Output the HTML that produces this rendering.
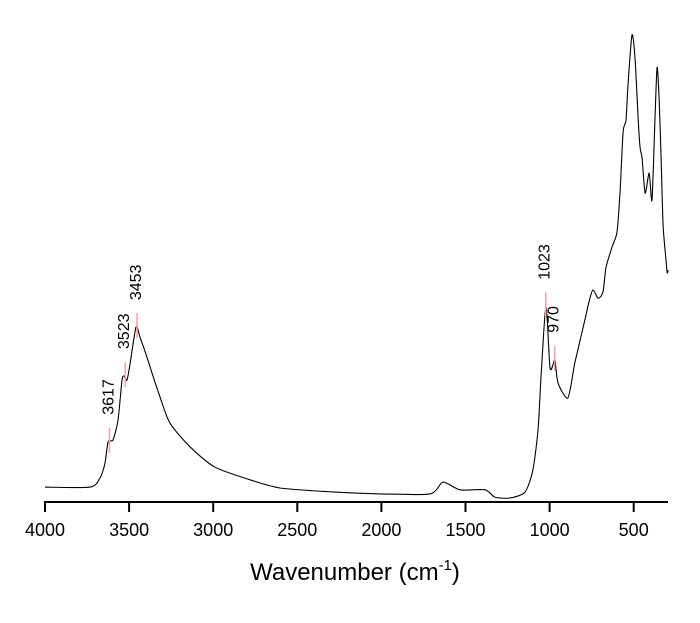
<!DOCTYPE html>
<html><head><meta charset="utf-8"><style>
html,body{margin:0;padding:0;background:#fff;}
svg text{font-family:"Liberation Sans",Arial,sans-serif;fill:#000;}
</style></head><body>
<svg id="chart" width="700" height="618" viewBox="0 0 700 618" xmlns="http://www.w3.org/2000/svg">
<g id="axis"></g>
<path id="spec" fill="none" stroke="#000" stroke-width="1.1" stroke-linejoin="round"></path>
<g id="peaks"></g>
<text x="355" y="580" font-size="24" text-anchor="middle">Wavenumber (cm<tspan font-size="15" dy="-10">-1</tspan><tspan dy="10">)</tspan></text>
</svg>
<script>
const wavenumbers=[4000,3732,3673,3643,3625,3596,3566,3542,3530,3513,3495,3459,3435,3394,3364,3316,3257,3138,2989,2781,2603,2276,2008,1711,1634,1533,1384,1325,1235,1146,1099,1069,1051,1022,998,980,968,950,891,850,790,766,742,712,683,665,629,599,581,563,546,534,510,492,474,462,450,432,408,391,373,361,349,337,325,307,301,295];
const absorbance=[0.002,0.002,0.022,0.055,0.102,0.106,0.150,0.238,0.247,0.238,0.272,0.355,0.333,0.289,0.254,0.201,0.143,0.091,0.046,0.018,0,-0.009,-0.013,-0.013,0.013,-0.004,-0.004,-0.020,-0.022,-0.009,0.040,0.128,0.245,0.400,0.267,0.272,0.283,0.232,0.199,0.276,0.371,0.411,0.437,0.419,0.432,0.486,0.532,0.565,0.654,0.786,0.812,0.890,1.000,0.949,0.817,0.751,0.728,0.651,0.695,0.636,0.823,0.929,0.861,0.728,0.580,0.499,0.475,0.481];
const tickValues=[4000,3500,3000,2500,2000,1500,1000,500];
const peakLabels=["3617","3523","3453","1023","970"];
const peakPositions=[3617,3523,3453,1023,970];
const peakHeights=[0.102,0.247,0.355,0.400,0.283];

const X0=45, PX_PER=84.1/500, Y0=488, YS=453, AXIS_Y=502;
const xs=w=>X0+(4000-w)*PX_PER;
const ys=a=>Y0-a*YS;
const NS="http://www.w3.org/2000/svg";
const axis=document.getElementById('axis');
function mk(tag,attrs,parent){const e=document.createElementNS(NS,tag);for(const k in attrs)e.setAttribute(k,attrs[k]);parent.appendChild(e);return e;}
const line=mk('line',{x1:X0-1,y1:AXIS_Y,x2:668,y2:AXIS_Y,stroke:'#000','stroke-width':2},axis);


tickValues.forEach(v=>{
  const t=mk('line',{x1:xs(v),y1:AXIS_Y,x2:xs(v),y2:AXIS_Y+10,stroke:'#000','stroke-width':2},axis);
  
  
  const l=mk('text',{x:xs(v),y:536,'font-size':18,'text-anchor':'middle'},axis);
  l.textContent=v;
  
  
});
// smooth path (Catmull-Rom, mild tension)
const P=wavenumbers.map((w,i)=>[xs(w),ys(absorbance[i])]);
let d='M'+P[0][0].toFixed(1)+' '+P[0][1].toFixed(1);
const k=0.12;
for(let i=0;i<P.length-1;i++){
  const p0=P[Math.max(i-1,0)],p1=P[i],p2=P[i+1],p3=P[Math.min(i+2,P.length-1)];
  const c1=[p1[0]+(p2[0]-p0[0])*k,p1[1]+(p2[1]-p0[1])*k];
  const c2=[p2[0]-(p3[0]-p1[0])*k,p2[1]-(p3[1]-p1[1])*k];
  d+=`C${c1[0].toFixed(1)} ${c1[1].toFixed(1)} ${c2[0].toFixed(1)} ${c2[1].toFixed(1)} ${p2[0].toFixed(1)} ${p2[1].toFixed(1)}`;
}
document.getElementById('spec').setAttribute('d',d);
const pk=document.getElementById('peaks');
peakLabels.forEach((lab,i)=>{
  const x=xs(peakPositions[i]), y=ys(peakHeights[i]);
  const m=mk('line',{x1:x,y1:y-14,x2:x,y2:y+11,stroke:'#f4a0a8','stroke-width':1.5},pk);
  
  
  const t=mk('text',{x:0,y:0,'font-size':16,transform:`translate(${x+4},${y-27}) rotate(-90)`},pk);
  t.textContent=lab;
  
  
});
</script>
</body></html>
